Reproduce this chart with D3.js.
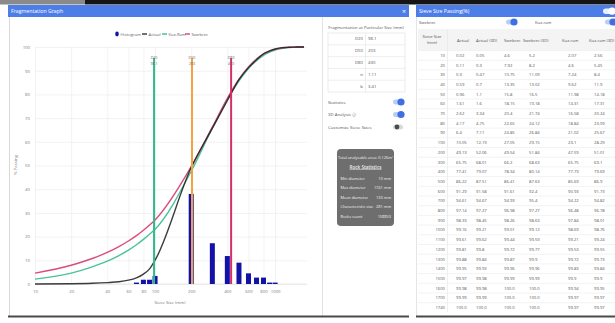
<!DOCTYPE html>
<html>
<head>
<meta charset="utf-8">
<script src="https://cdn.jsdelivr.net/npm/d3@7"></script>
<style>
  html, body { margin: 0; padding: 0; background: #fff; overflow: hidden; }
  svg { display: block; font-family: "Open Sans", "Noto Sans", sans-serif; }
</style>
</head>
<body>
<svg id="view" width="615" height="323"></svg>
<script>
// Sieve sizes (mm) and cumulative passing (%) per model
const sieveSizes = [10, 20, 30, 40, 50, 60, 70, 80, 90, 100, 200, 300, 400, 500, 600, 700, 800, 900, 1000, 1100, 1200, 1300, 1400, 1500, 1600, 1700, 1740];
const actual     = [0.02, 0.11, 0.30, 0.59, 0.96, 1.61, 2.62, 4.17, 6.40, 10.05, 49.13, 65.75, 77.41, 86.22, 91.29, 94.61, 97.14, 98.33, 99.16, 99.61, 99.81, 99.88, 99.95, 99.97, 99.98, 99.99, 100.00];
const actual3D   = [0.05, 0.30, 0.47, 0.70, 1.10, 1.60, 3.34, 4.75, 7.11, 12.19, 52.06, 68.01, 79.07, 87.51, 91.58, 94.67, 97.27, 98.45, 99.21, 99.62, 99.80, 99.84, 99.93, 99.98, 99.98, 99.99, 100.00];
const swebrec    = [4.60, 7.92, 10.75, 13.35, 15.80, 18.15, 20.40, 22.65, 24.85, 27.05, 49.54, 66.20, 78.34, 86.41, 91.61, 94.93, 96.98, 98.26, 99.01, 99.44, 99.72, 99.87, 99.96, 99.99, 100.00, 100.00, 100.00];
const swebrec3D  = [5.20, 8.20, 11.09, 13.02, 16.50, 19.18, 21.74, 24.12, 26.84, 29.15, 51.84, 68.63, 80.14, 87.63, 92.40, 95.40, 97.27, 98.63, 99.12, 99.59, 99.77, 99.90, 99.96, 99.99, 100.00, 100.00, 100.00];
const kuzRam     = [2.07, 4.60, 7.24, 9.62, 11.98, 14.31, 16.58, 18.84, 21.02, 23.10, 47.59, 65.75, 77.73, 85.69, 90.93, 94.22, 96.48, 97.84, 98.69, 99.21, 99.53, 99.72, 99.83, 99.90, 99.94, 99.97, 99.97];
const kuzRam3D   = [2.56, 5.45, 8.40, 11.90, 14.18, 17.31, 20.24, 23.09, 25.67, 28.29, 51.01, 69.10, 79.69, 86.90, 91.73, 94.82, 96.78, 98.01, 98.76, 99.24, 99.55, 99.73, 99.84, 99.90, 99.95, 99.97, 99.97];

// Histogram of retained fraction (%) per sieve
const histSizes  = [70, 80, 90, 100, 200, 300, 400, 500, 600, 700, 800, 900, 1000];
const histValues = [0.6, 1.8, 1.8, 3.4, 38.0, 17.2, 11.8, 9.0, 4.5, 2.7, 2.7, 0.6, 0.6];

// Fragmentation markers
const markerNames  = ["D20", "D50", "D80"];
const markerValues = [98.1, 203, 430];
const paramNames   = ["n", "b"];
const paramValues  = [1.11, 3.41];

// Axis ticks
const xTickValues = [10, 20, 40, 60, 80, 100, 200, 400, 600, 800, 1000];
const yTickValues = [0, 10, 20, 30, 40, 50, 60, 70, 80, 90, 100];

// Rock statistics
const statLabels = ["Min diameter", "Max diameter", "Mean diameter", "Characteristic size", "Rocks count"];
const statValues = ["10 mm", "1741 mm", "133 mm", "281 mm", "158853"];

const COLORS = {
  header: "#4d7ee8",
  hist: "#1212a6",
  actual: "#222222",
  kuz: "#2fb98c",
  swe: "#d6336c",
  markers: ["#2fb98c", "#f5a23d", "#d62e6b"],
  toggleOn: "#3f6fe3",
  toggleTrack: "#b9cdf6"
};

const svg = d3.select("#view");

// ----- page frame -----
svg.append("rect").attr("x", 0).attr("y", 0).attr("width", 615).attr("height", 323).attr("fill", "#fff");
svg.append("rect").attr("x", 0).attr("y", 0).attr("width", 85).attr("height", 4.5).attr("fill", "#8a8a8a");
svg.append("rect").attr("x", 85).attr("y", 0).attr("width", 530).attr("height", 4.5).attr("fill", "#151515");

function toggle(g, cx, cy, on) {
  g.append("rect").attr("x", cx - 5).attr("y", cy - 2.5).attr("width", 10).attr("height", 5).attr("rx", 2.5)
    .attr("fill", on ? COLORS.toggleTrack : "#d9d9d9");
  g.append("circle").attr("cx", on ? cx + 3 : cx - 1).attr("cy", cy).attr("r", on ? 3.6 : 2.4)
    .attr("fill", on ? COLORS.toggleOn : "#4a4a4a");
}

// ===== Left dialog: fragmentation graph =====
const left = svg.append("g");
left.append("rect").attr("x", 8).attr("y", 5).attr("width", 401).attr("height", 12).attr("fill", COLORS.header);
left.append("text").attr("x", 11).attr("y", 13).attr("font-size", 5.2).attr("fill", "#fff").text("Fragmentation Graph");
left.append("text").attr("x", 404).attr("y", 13.5).attr("font-size", 7).attr("fill", "#fff").attr("text-anchor", "middle").text("×");
left.append("line").attr("x1", 9.5).attr("x2", 9.5).attr("y1", 17).attr("y2", 316).attr("stroke", "#cfcfcf").attr("stroke-width", 0.8);
left.append("line").attr("x1", 322.5).attr("x2", 322.5).attr("y1", 17).attr("y2", 316).attr("stroke", "#dcdcdc").attr("stroke-width", 0.8);
left.append("rect").attr("x", 8).attr("y", 315.5).attr("width", 401).attr("height", 2).attr("fill", "#4a4a4a");

const x = d3.scaleLog().domain([10, 1740]).range([35, 304]);
const y = d3.scaleLinear().domain([0, 100]).range([284, 47]);

// gridlines + axes
const xAxis = left.append("g").attr("transform", "translate(0,284)")
  .call(d3.axisBottom(x).tickValues(xTickValues).tickFormat(d3.format("d")).tickSize(-(284 - 47)).tickPadding(6));
const yAxis = left.append("g").attr("transform", "translate(35,0)")
  .call(d3.axisLeft(y).tickValues(yTickValues).tickSize(-(307 - 35)).tickPadding(5));
[xAxis, yAxis].forEach(a => {
  a.select(".domain").remove();
  a.selectAll(".tick line").attr("stroke", "#ececec").attr("stroke-width", 0.7);
  a.selectAll(".tick text").attr("font-size", 4.3).attr("fill", "#777").attr("font-family", "Open Sans, sans-serif");
});
left.append("line").attr("x1", 35).attr("x2", 307).attr("y1", 284).attr("y2", 284).attr("stroke", "#e2e2e2").attr("stroke-width", 0.8);

left.append("text").attr("x", 170).attr("y", 304).attr("text-anchor", "middle").attr("font-size", 4.3).attr("fill", "#777").text("Sieve Size (mm)");
left.append("text").attr("transform", "translate(17,165) rotate(-90)").attr("text-anchor", "middle").attr("font-size", 4.3).attr("fill", "#777").text("% Passing");

// histogram bars
left.append("g").selectAll("rect").data(histSizes.map((s, i) => ({ s, v: histValues[i] }))).join("rect")
  .attr("x", d => x(d.s) - 2.5).attr("width", 5)
  .attr("y", d => y(d.v)).attr("height", d => y(0) - y(d.v))
  .attr("fill", COLORS.hist);

// cumulative curves
const line = d3.line().x(d => x(d.s)).y(d => y(d.v)).curve(d3.curveMonotoneX);
const series = [
  { values: kuzRam, color: COLORS.kuz },
  { values: swebrec, color: COLORS.swe },
  { values: actual, color: COLORS.actual }
];
left.append("g").selectAll("path").data(series).join("path")
  .attr("d", d => line(sieveSizes.map((s, i) => ({ s, v: d.values[i] }))))
  .attr("fill", "none").attr("stroke", d => d.color).attr("stroke-width", 1.4).attr("opacity", 0.88);

// fragmentation marker lines
const mk = left.append("g").selectAll("g").data(markerValues.map((v, i) => ({ v, name: markerNames[i], c: COLORS.markers[i] }))).join("g");
mk.append("line").attr("x1", d => x(d.v)).attr("x2", d => x(d.v)).attr("y1", 58).attr("y2", y(0))
  .attr("stroke", d => d.c).attr("stroke-width", 2);
mk.append("text").attr("x", d => x(d.v)).attr("y", 59).attr("text-anchor", "middle").attr("font-size", 3.6)
  .attr("fill", "#666").text(d => d.name);
mk.append("text").attr("x", d => x(d.v)).attr("y", 64.5).attr("text-anchor", "middle").attr("font-size", 3.6)
  .attr("fill", "#666").text(d => d.v);

// legend
const legend = left.append("g").attr("font-size", 4.2).attr("fill", "#666");
legend.append("ellipse").attr("cx", 117).attr("cy", 34).attr("rx", 1.8).attr("ry", 2.4).attr("fill", COLORS.hist);
legend.append("text").attr("x", 120.5).attr("y", 35.5).text("Histogram");
[["Actual", COLORS.actual, 142], ["Kuz-Ram", COLORS.kuz, 162], ["Swebrec", COLORS.swe, 185]].forEach(([t, c, lx]) => {
  legend.append("line").attr("x1", lx).attr("x2", lx + 5).attr("y1", 34).attr("y2", 34).attr("stroke", c).attr("stroke-width", 1.3);
  legend.append("text").attr("x", lx + 6.5).attr("y", 35.5).text(t);
});

// ----- side panel -----
const side = left.append("g").attr("font-size", 4.3).attr("fill", "#555");
side.append("text").attr("x", 366).attr("y", 29).attr("text-anchor", "middle").text("Fragmentation at Particular Size (mm)");
const tRows = markerNames.map((n, i) => [n, String(markerValues[i])]).concat(paramNames.map((n, i) => [n, String(paramValues[i])]));
const tTop = 33, tRowH = 11.8;
side.append("rect").attr("x", 328).attr("y", tTop).attr("width", 77).attr("height", tRowH * tRows.length)
  .attr("fill", "none").attr("stroke", "#dedede").attr("stroke-width", 0.6);
tRows.forEach((r, i) => {
  const cy = tTop + tRowH * i + tRowH / 2;
  if (i > 0) side.append("line").attr("x1", 328).attr("x2", 405).attr("y1", tTop + tRowH * i).attr("y2", tTop + tRowH * i)
    .attr("stroke", "#e2e2e2").attr("stroke-width", 0.6);
  side.append("text").attr("x", 363).attr("y", cy + 1.5).attr("text-anchor", "end").text(r[0]);
  side.append("text").attr("x", 368).attr("y", cy + 1.5).text(r[1]);
});
side.append("line").attr("x1", 365.5).attr("x2", 365.5).attr("y1", tTop).attr("y2", tTop + tRowH * tRows.length)
  .attr("stroke", "#e2e2e2").attr("stroke-width", 0.6);

[["Statistics", true, 102], ["3D Analysis \u24D8", true, 114.5], ["Customize Sieve Sizes", false, 127]].forEach(([t, on, ty]) => {
  side.append("text").attr("x", 328).attr("y", ty + 1.5).text(t);
  toggle(side, 398, ty, on);
});

// statistics box
const box = left.append("g").attr("font-size", 3.9).attr("fill", "#f2f2f2");
box.append("rect").attr("x", 337).attr("y", 149).attr("width", 57).attr("height", 77).attr("rx", 4).attr("fill", "#6e6e6e");
box.append("text").attr("x", 365.5).attr("y", 159).attr("text-anchor", "middle").text("Total analysable area: 0.126m\u00B2");
box.append("text").attr("x", 365.5).attr("y", 168.5).attr("text-anchor", "middle").attr("font-size", 4.6).attr("font-weight", 600)
  .attr("text-decoration", "underline").text("Rock Statistics");
statLabels.forEach((l, i) => {
  const ty = 179.5 + i * 9.6;
  box.append("text").attr("x", 340.5).attr("y", ty).text(l);
  box.append("text").attr("x", 391).attr("y", ty).attr("text-anchor", "end").text(statValues[i]);
});

// ===== Right dialog: sieve size passing table =====
const right = svg.append("g");
right.append("rect").attr("x", 416).attr("y", 5).attr("width", 199).attr("height", 12).attr("fill", COLORS.header);
right.append("text").attr("x", 419).attr("y", 13).attr("font-size", 5.2).attr("fill", "#fff").text("Sieve Size Passing(%)");
right.append("rect").attr("x", 603).attr("y", 8.5).attr("width", 12).attr("height", 5.5).attr("rx", 2.75).attr("fill", "#e9efff");
right.append("circle").attr("cx", 612).attr("cy", 11.2).attr("r", 3.6).attr("fill", "#fff");
right.append("line").attr("x1", 416.5).attr("x2", 416.5).attr("y1", 17).attr("y2", 316).attr("stroke", "#dadada").attr("stroke-width", 0.7);
right.append("rect").attr("x", 416).attr("y", 315.5).attr("width", 199).attr("height", 2).attr("fill", "#4a4a4a");

const rt = right.append("g").attr("font-size", 4.2).attr("fill", "#555");
rt.append("text").attr("x", 419).attr("y", 23.5).text("Swebrec");
toggle(rt, 511, 22, true);
rt.append("text").attr("x", 535).attr("y", 23.5).text("Kuz-ram");
toggle(rt, 610, 22, true);

const columns = [
  { head: "Actual", hx: 457, vx: 456, vals: actual },
  { head: "Actual (3D)", hx: 476, vx: 476, vals: actual3D },
  { head: "Swebrec", hx: 504, vx: 504, vals: swebrec },
  { head: "Swebrec (3D)", hx: 523, vx: 529, vals: swebrec3D },
  { head: "Kuz-ram", hx: 562, vx: 568, vals: kuzRam },
  { head: "Kuz-ram (3D)", hx: 589, vx: 594, vals: kuzRam3D }
];
const rowTop = 50.5, rowH = 9.7;
rt.append("rect").attr("x", 418).attr("y", 29).attr("width", 197).attr("height", rowTop - 29).attr("fill", "#f4f4f4");
rt.append("text").attr("x", 432).attr("y", 38).attr("text-anchor", "middle").text("Sieve Size");
rt.append("text").attr("x", 432).attr("y", 44).attr("text-anchor", "middle").text("(mm)");
columns.forEach(c => rt.append("text").attr("x", c.hx).attr("y", 41.5).text(c.head));
rt.append("line").attr("x1", 447.5).attr("x2", 447.5).attr("y1", 29).attr("y2", rowTop + rowH * sieveSizes.length)
  .attr("stroke", "#e4e4e4").attr("stroke-width", 0.6);

const fmt = v => { const s = String(+v.toFixed(2)); return Number.isInteger(+s) && v >= 100 ? s + ".0" : s; };
const rows = rt.append("g").selectAll("g").data(sieveSizes).join("g")
  .attr("transform", (d, i) => `translate(0,${rowTop + rowH * i})`);
rows.append("line").attr("x1", 418).attr("x2", 615).attr("y1", 0).attr("y2", 0).attr("stroke", "#ebebeb").attr("stroke-width", 0.6);
rows.append("text").attr("x", 445).attr("y", rowH / 2 + 1.5).attr("text-anchor", "end").text(d => d);
columns.forEach(c => {
  rows.append("text").attr("x", c.vx).attr("y", rowH / 2 + 1.5).text((d, i) => fmt(c.vals[i]));
});
</script>
</body>
</html>
